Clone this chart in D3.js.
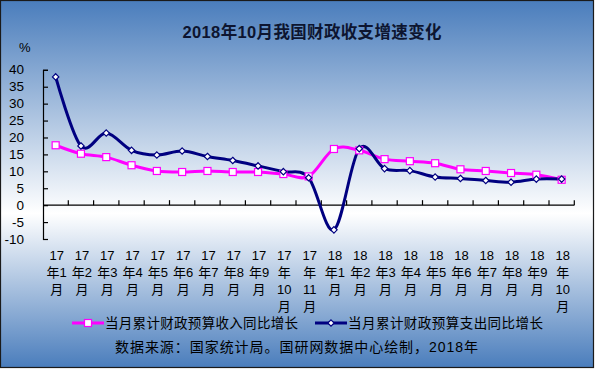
<!DOCTYPE html>
<html>
<head>
<meta charset="utf-8">
<script src="https://cdn.jsdelivr.net/npm/d3@7"></script>
<style>
  body { margin: 0; }
  svg { display: block; font-family: "Liberation Sans", Arial, "Noto Sans CJK SC", sans-serif; }
</style>
</head>
<body>
<script>
'use strict';

// categories (month labels)
let months = ["17年1月", "17年2月", "17年3月", "17年4月", "17年5月", "17年6月", "17年7月", "17年8月", "17年9月", "17年10月", "17年11月",
              "18年1月", "18年2月", "18年3月", "18年4月", "18年5月", "18年6月", "18年7月", "18年8月", "18年9月", "18年10月"];

// revenue growth (pink)
let revenue = [17.7, 15.2, 14.2, 11.8, 10.1, 9.8, 10.1, 9.8, 9.8, 9.2, 8.5,
               16.6, 16.2, 13.6, 13.0, 12.4, 10.6, 10.1, 9.5, 9.0, 7.5];

// expenditure growth (navy)
let expenditure = [37.9, 17.5, 21.3, 16.2, 14.8, 16.0, 14.4, 13.2, 11.6, 9.9, 8.1,
                   -7.3, 16.7, 10.8, 10.2, 8.3, 7.9, 7.3, 6.8, 7.7, 7.7];

let yTicks = [-10, -5, 0, 5, 10, 15, 20, 25, 30, 35, 40];

let legendNames = ["当月累计财政预算收入同比增长", "当月累计财政预算支出同比增长"];

const W = 595, H = 369;

let svg = d3.select('body').append('svg')
  .attr('width', W)
  .attr('height', H);

// background gradient
let defs = svg.append('defs');
let grad = defs.append('linearGradient')
  .attr('id', 'bg')
  .attr('x1', 0).attr('y1', 0).attr('x2', 0).attr('y2', 1);
grad.append('stop').attr('offset', '0%').attr('stop-color', '#4a7dbc');
grad.append('stop').attr('offset', '58%').attr('stop-color', '#ffffff');
grad.append('stop').attr('offset', '100%').attr('stop-color', '#4a7dbc');

svg.append('rect')
  .attr('x', 0.5).attr('y', 0.5)
  .attr('width', W - 2).attr('height', H - 2)
  .attr('fill', 'url(#bg)')
  .attr('stroke', '#1a1a1a')
  .attr('stroke-width', 1.2);

// scales
let xScale = d3.scaleBand()
  .domain(months)
  .range([43, 574.3]);

let yScale = d3.scaleLinear()
  .domain([-10, 40])
  .range([239, 69.8]);

const xMid = function(d) { return xScale(d) + xScale.bandwidth() / 2; };

// y axis with inside ticks
let yAxis = d3.axisRight(yScale)
  .tickValues(yTicks)
  .tickSize(5)
  .tickFormat('');
svg.append('g')
  .attr('transform', 'translate(43, 0)')
  .call(yAxis)
  .call(g => g.selectAll('path, line').attr('stroke', '#000').attr('stroke-width', 1.2));

svg.append('g').selectAll('text')
  .data(yTicks)
  .enter().append('text')
    .attr('x', 24)
    .attr('y', d => yScale(d) + 4.5)
    .attr('text-anchor', 'end')
    .style('font-size', '13.5px')
    .text(d => d);

svg.append('text')
  .attr('x', 19)
  .attr('y', 52)
  .style('font-size', '13px')
  .text('%');

// x axis at zero, ticks pointing up at category boundaries
let xAxisG = svg.append('g');
xAxisG.append('line')
  .attr('x1', 43).attr('x2', 574.3)
  .attr('y1', yScale(0)).attr('y2', yScale(0))
  .attr('stroke', '#000').attr('stroke-width', 1.2);
xAxisG.selectAll('.tick')
  .data(months)
  .enter().append('line')
    .attr('x1', d => xScale(d) + xScale.bandwidth())
    .attr('x2', d => xScale(d) + xScale.bandwidth())
    .attr('y1', yScale(0))
    .attr('y2', yScale(0) - 5)
    .attr('stroke', '#000').attr('stroke-width', 1.2);

// x labels, wrapped like the original
function splitLabel(m) {
  let yr = m.slice(0, 2);
  let mo = m.slice(3, m.length - 1);
  if (mo.length > 1) return [yr, '年', mo, '月'];
  return [yr, '年' + mo, '月'];
}

let labelG = svg.append('g');
months.forEach(function(m) {
  let lines = splitLabel(m);
  lines.forEach(function(t, i) {
    labelG.append('text')
      .attr('x', xMid(m) + 1)
      .attr('y', 260 + i * 17)
      .attr('text-anchor', 'middle')
      .style('font-size', '13px')
      .text(t);
  });
});

// lines
let line = d3.line()
  .x((d, i) => xMid(months[i]))
  .y(d => yScale(d))
  .curve(d3.curveCatmullRom.alpha(0));

svg.append('path')
  .datum(revenue)
  .attr('d', line)
  .attr('fill', 'none')
  .attr('stroke', '#ff00ff')
  .attr('stroke-width', 3);

svg.append('path')
  .datum(expenditure)
  .attr('d', line)
  .attr('fill', 'none')
  .attr('stroke', '#000080')
  .attr('stroke-width', 3);

// markers
svg.append('g').selectAll('rect')
  .data(revenue)
  .enter().append('rect')
    .attr('x', (d, i) => xMid(months[i]) - 3.5)
    .attr('y', d => yScale(d) - 3.5)
    .attr('width', 7)
    .attr('height', 7)
    .attr('fill', '#fff')
    .attr('stroke', '#ff00ff')
    .attr('stroke-width', 1.2);

let diamond = d3.symbol().type(d3.symbolDiamond2).size(26);
svg.append('g').selectAll('path')
  .data(expenditure)
  .enter().append('path')
    .attr('d', diamond)
    .attr('transform', (d, i) => 'translate(' + xMid(months[i]) + ',' + yScale(d) + ')')
    .attr('fill', '#fff')
    .attr('stroke', '#000080')
    .attr('stroke-width', 1.2);

// title
svg.append('text')
  .attr('x', 312)
  .attr('y', 38)
  .attr('text-anchor', 'middle')
  .attr('textLength', 259)
  .style('font-size', '16.5px')
  .style('font-weight', 'bold')
  .style('fill', '#0d1530')
  .text('2018年10月我国财政收支增速变化');

// legend
let legendY = 323;
svg.append('line')
  .attr('x1', 72).attr('x2', 104)
  .attr('y1', legendY).attr('y2', legendY)
  .attr('stroke', '#ff00ff').attr('stroke-width', 3);
svg.append('rect')
  .attr('x', 84.5).attr('y', legendY - 3.5)
  .attr('width', 7).attr('height', 7)
  .attr('fill', '#fff').attr('stroke', '#ff00ff').attr('stroke-width', 1.2);
svg.append('text')
  .attr('x', 105).attr('y', legendY + 5)
  .attr('textLength', 193)
  .style('font-size', '13.5px')
  .text(legendNames[0]);

svg.append('line')
  .attr('x1', 315).attr('x2', 347)
  .attr('y1', legendY).attr('y2', legendY)
  .attr('stroke', '#000080').attr('stroke-width', 3);
svg.append('path')
  .attr('d', diamond)
  .attr('transform', 'translate(331,' + legendY + ')')
  .attr('fill', '#fff').attr('stroke', '#000080').attr('stroke-width', 1.2);
svg.append('text')
  .attr('x', 348).attr('y', legendY + 5)
  .attr('textLength', 195)
  .style('font-size', '13.5px')
  .text(legendNames[1]);

// source note
svg.append('text')
  .attr('x', 115).attr('y', 352)
  .attr('textLength', 363)
  .style('font-size', '14px')
  .text('数据来源：国家统计局。国研网数据中心绘制，2018年');
</script>
</body>
</html>
